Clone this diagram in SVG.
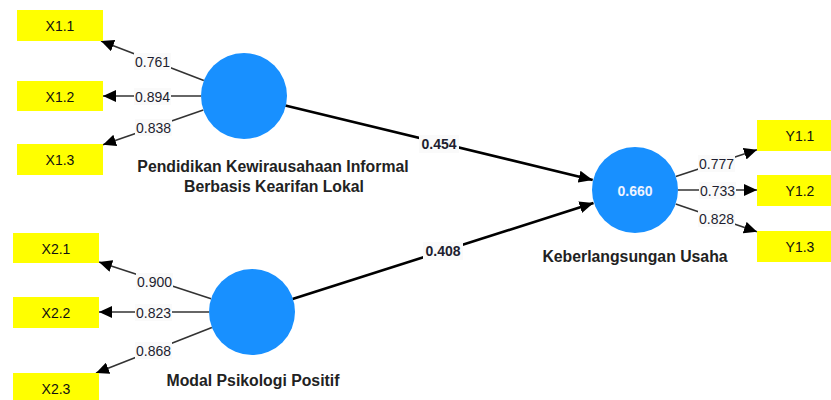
<svg xmlns="http://www.w3.org/2000/svg" width="831" height="400" viewBox="0 0 831 400">
<style>
.ind{fill:#FFFF00;stroke:none}
.indt{font-family:"Liberation Sans",Arial,sans-serif;font-size:14px;fill:#111;text-anchor:middle;dominant-baseline:central}
.lv{fill:#1890FF;stroke:none}
.lvt{font-family:"Liberation Sans",Arial,sans-serif;font-size:15.8px;font-weight:bold;fill:#222;text-anchor:middle}
.ld{stroke:#333;stroke-width:1.6;fill:none;marker-end:url(#ah)}
.st{stroke:#000;stroke-width:2.6;fill:none;marker-end:url(#ah2)}
.lb{fill:#fafafa}
.lt{font-family:"Liberation Sans",Arial,sans-serif;font-size:14px;fill:#1e1e30;text-anchor:middle;dominant-baseline:central}
.sb{font-weight:bold}
</style>
<defs>
<marker id="ah" markerUnits="userSpaceOnUse" markerWidth="14" markerHeight="12" refX="13" refY="6" orient="auto">
<path d="M0,0 L13,6 L0,12 z" fill="#000"/>
</marker>
<marker id="ah2" markerUnits="userSpaceOnUse" markerWidth="15" markerHeight="12" refX="14" refY="6" orient="auto">
<path d="M0,0 L14,6 L0,12 z" fill="#000"/>
</marker>
</defs>
<rect width="831" height="400" fill="#fff"/>
<g id="connectors">
<line class="ld" x1="203.8" y1="80.6" x2="101" y2="41"/>
<line class="ld" x1="201" y1="96" x2="103" y2="96"/>
<line class="ld" x1="203.3" y1="110" x2="103" y2="144.7"/>
<line class="ld" x1="211.1" y1="298.7" x2="99" y2="262"/>
<line class="ld" x1="209" y1="312" x2="99" y2="312"/>
<line class="ld" x1="211.9" y1="327.6" x2="96" y2="373"/>
<line class="ld" x1="675.8" y1="176.5" x2="757" y2="149.7"/>
<line class="ld" x1="678" y1="190" x2="757" y2="190"/>
<line class="ld" x1="675.7" y1="203.9" x2="757" y2="231.8"/>
<line class="st" x1="285.3" y1="105.6" x2="592.7" y2="179.9"/>
<line class="st" x1="292.5" y1="299" x2="593.5" y2="203"/>
<rect class="lb" x="134" y="53" width="37" height="17"/><text class="lt" x="152.5" y="61.5">0.761</text>
<rect class="lb" x="134" y="88" width="37" height="17"/><text class="lt" x="152.5" y="96.5">0.894</text>
<rect class="lb" x="135" y="119" width="37" height="17"/><text class="lt" x="153.5" y="127.5">0.838</text>
<rect class="lb" x="136" y="273" width="37" height="17"/><text class="lt" x="154.5" y="281.5">0.900</text>
<rect class="lb" x="135" y="304" width="37" height="17"/><text class="lt" x="153.5" y="312.5">0.823</text>
<rect class="lb" x="135" y="342" width="37" height="17"/><text class="lt" x="153.5" y="350.5">0.868</text>
<rect class="lb" x="698" y="155" width="37" height="17"/><text class="lt" x="716.5" y="163.5">0.777</text>
<rect class="lb" x="699" y="182" width="37" height="17"/><text class="lt" x="717.5" y="190.5">0.733</text>
<rect class="lb" x="698" y="210" width="37" height="17"/><text class="lt" x="716.5" y="218.5">0.828</text>
<rect class="lb" x="419" y="135" width="40" height="18"/><text class="lt sb" x="439" y="144">0.454</text>
<rect class="lb" x="423" y="242" width="40" height="18"/><text class="lt sb" x="443" y="251">0.408</text>
</g>
<g id="X1.1"><rect class="ind" x="17" y="10" width="86" height="31"/><text class="indt" x="60" y="26">X1.1</text></g>
<g id="X1.2"><rect class="ind" x="17" y="81" width="86" height="30"/><text class="indt" x="60" y="96.5">X1.2</text></g>
<g id="X1.3"><rect class="ind" x="17" y="144" width="86" height="31"/><text class="indt" x="60" y="160">X1.3</text></g>
<g id="X2.1"><rect class="ind" x="13" y="233" width="86" height="30"/><text class="indt" x="56" y="248.5">X2.1</text></g>
<g id="X2.2"><rect class="ind" x="13" y="297" width="86" height="31"/><text class="indt" x="56" y="313">X2.2</text></g>
<g id="X2.3"><rect class="ind" x="13" y="373" width="86" height="31"/><text class="indt" x="56" y="389">X2.3</text></g>
<g id="Y1.1"><rect class="ind" x="757" y="120" width="86" height="31"/><text class="indt" x="800" y="136">Y1.1</text></g>
<g id="Y1.2"><rect class="ind" x="757" y="175" width="86" height="31"/><text class="indt" x="800" y="191">Y1.2</text></g>
<g id="Y1.3"><rect class="ind" x="757" y="231" width="86" height="31"/><text class="indt" x="800" y="247">Y1.3</text></g>
<g id="PKI">
<circle class="lv" cx="244" cy="96" r="43"/>
<text class="lvt" x="273" y="172">Pendidikan Kewirausahaan Informal</text>
<text class="lvt" x="274" y="192">Berbasis Kearifan Lokal</text>
</g>
<g id="MPP">
<circle class="lv" cx="252" cy="312" r="43"/>
<text class="lvt" x="253" y="386">Modal Psikologi Positif</text>
</g>
<g id="KU">
<circle class="lv" cx="635" cy="190" r="43"/>
<text class="indt" x="635" y="191" style="fill:#eef3ff;font-weight:bold">0.660</text>
<text class="lvt" x="635" y="262">Keberlangsungan Usaha</text>
</g>
</svg>
